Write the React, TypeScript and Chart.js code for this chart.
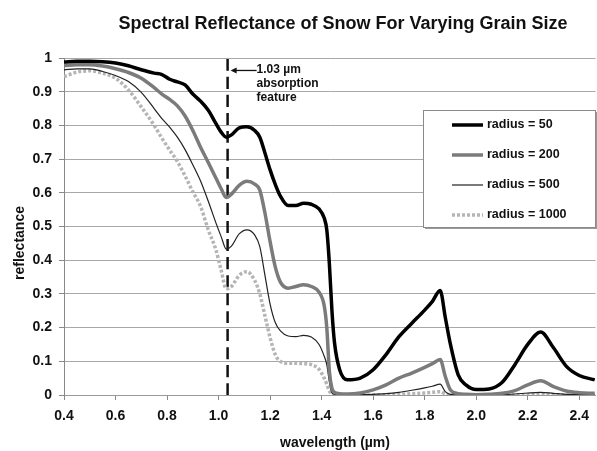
import { useEffect, useRef } from 'react';
import { Chart, registerables } from 'chart.js';

Chart.register(...registerables);

const TITLE = 'Spectral Reflectance of Snow For Varying Grain Size';
const X_TITLE = 'wavelength (µm)';
const Y_TITLE = 'reflectance';

const X_TICKS = [0.4, 0.6, 0.8, 1.0, 1.2, 1.4, 1.6, 1.8, 2.0, 2.2, 2.4];
const Y_TICKS = [0, 0.1, 0.2, 0.3, 0.4, 0.5, 0.6, 0.7, 0.8, 0.9, 1];
const X_MIN = 0.4;
const X_MAX = 2.463;

const SERIES_LABELS = ['radius = 50', 'radius = 200', 'radius = 500', 'radius = 1000'];

const WAVELENGTH = [
  0.40, 0.45, 0.50, 0.55, 0.60, 0.65, 0.70, 0.75,
  0.78, 0.81, 0.84, 0.87, 0.90, 0.93, 0.96, 0.99,
  1.01, 1.03, 1.05, 1.08, 1.11, 1.14, 1.16, 1.18,
  1.20, 1.22, 1.24, 1.27, 1.30, 1.33, 1.36, 1.39,
  1.41, 1.42, 1.43, 1.44, 1.45, 1.47, 1.50, 1.55,
  1.60, 1.65, 1.70, 1.75, 1.80, 1.83, 1.86, 1.88,
  1.90, 1.93, 1.96, 2.00, 2.05, 2.10, 2.15, 2.20,
  2.25, 2.30, 2.35, 2.40, 2.46,
];

const RADIUS_50 = [
  0.988, 0.990, 0.990, 0.989, 0.985, 0.977, 0.965, 0.955,
  0.951, 0.937, 0.929, 0.920, 0.893, 0.872, 0.845, 0.805,
  0.780, 0.765, 0.772, 0.793, 0.796, 0.785, 0.765, 0.718,
  0.668, 0.625, 0.590, 0.562, 0.562, 0.569, 0.566, 0.552,
  0.525, 0.490, 0.390, 0.250, 0.155, 0.075, 0.045, 0.050,
  0.075, 0.120, 0.173, 0.213, 0.252, 0.278, 0.310, 0.230,
  0.150, 0.060, 0.030, 0.016, 0.018, 0.037, 0.090, 0.150,
  0.187, 0.140, 0.085, 0.058, 0.045,
];

const RADIUS_200 = [
  0.978, 0.980, 0.980, 0.976, 0.968, 0.957, 0.940, 0.912,
  0.893, 0.877, 0.858, 0.828, 0.785, 0.735, 0.690, 0.643,
  0.612, 0.586, 0.596, 0.622, 0.634, 0.626, 0.608, 0.540,
  0.455, 0.380, 0.335, 0.317, 0.322, 0.327, 0.322, 0.305,
  0.265, 0.200, 0.070, 0.020, 0.008, 0.004, 0.003, 0.006,
  0.015, 0.030, 0.050, 0.065, 0.082, 0.093, 0.105, 0.055,
  0.015, 0.004, 0.002, 0.001, 0.002, 0.005, 0.013, 0.030,
  0.042, 0.025, 0.012, 0.007, 0.005,
];

const RADIUS_500 = [
  0.965, 0.968, 0.968, 0.960, 0.948, 0.930, 0.898, 0.850,
  0.820, 0.795, 0.765, 0.728, 0.683, 0.635, 0.575, 0.510,
  0.470, 0.433, 0.442, 0.478, 0.490, 0.475, 0.440, 0.355,
  0.270, 0.215, 0.190, 0.175, 0.173, 0.177, 0.172, 0.150,
  0.115, 0.090, 0.040, 0.006, 0.002, 0.001, 0.001, 0.001,
  0.002, 0.004, 0.008, 0.014, 0.021, 0.026, 0.032, 0.010,
  0.002, 0.001, 0.000, 0.000, 0.000, 0.001, 0.003, 0.006,
  0.008, 0.005, 0.002, 0.001, 0.001,
];

const RADIUS_1000 = [
  0.945, 0.958, 0.962, 0.955, 0.940, 0.905, 0.855, 0.800,
  0.762, 0.727, 0.693, 0.650, 0.603, 0.560, 0.490, 0.430,
  0.370, 0.315, 0.322, 0.355, 0.366, 0.340, 0.300, 0.235,
  0.170, 0.120, 0.100, 0.094, 0.094, 0.093, 0.090, 0.076,
  0.050, 0.032, 0.012, 0.002, 0.001, 0.000, 0.000, 0.000,
  0.000, 0.001, 0.002, 0.004, 0.006, 0.008, 0.010, 0.003,
  0.001, 0.000, 0.000, 0.000, 0.000, 0.000, 0.000, 0.001,
  0.002, 0.001, 0.000, 0.000, 0.000,
];

const ABSORPTION_X = 1.035;
const ABSORPTION_TEXT = ['1.03 µm', 'absorption', 'feature'];

const FONT = '"Liberation Sans", Arial, Helvetica, sans-serif';

const toPoints = (ys: number[]) => WAVELENGTH.map((x, i) => ({ x, y: ys[i] }));

const overlayPlugin = {
  id: 'overlay',
  afterDatasetsDraw(chart: any) {
    const ctx = chart.ctx as CanvasRenderingContext2D;
    const xs = chart.scales.x;
    const ys = chart.scales.y;
    ctx.save();
    ctx.fillStyle = '#111';
    ctx.textBaseline = 'middle';

    // chart title
    ctx.textAlign = 'center';
    ctx.font = `bold 18px ${FONT}`;
    ctx.fillText(TITLE, 343, 24);

    // axis titles
    ctx.font = `bold 14px ${FONT}`;
    ctx.fillText(X_TITLE, 335, 443);
    ctx.save();
    ctx.translate(20, 243);
    ctx.rotate(-Math.PI / 2);
    ctx.fillText(Y_TITLE, 0, 0);
    ctx.restore();

    // absorption annotation
    const ax = xs.getPixelForValue(ABSORPTION_X);
    const ay = ys.getPixelForValue(0.963);
    ctx.strokeStyle = '#111';
    ctx.lineWidth = 1.3;
    ctx.setLineDash([]);
    ctx.beginPath();
    ctx.moveTo(ax + 5, ay);
    ctx.lineTo(ax + 29, ay);
    ctx.stroke();
    ctx.beginPath();
    ctx.moveTo(ax + 3, ay);
    ctx.lineTo(ax + 9, ay - 3);
    ctx.lineTo(ax + 9, ay + 3);
    ctx.closePath();
    ctx.fill();
    ctx.textAlign = 'left';
    ctx.font = `bold 12px ${FONT}`;
    ABSORPTION_TEXT.forEach((t, i) => {
      ctx.fillText(t, ax + 29, ay - 1 + i * 14);
    });

    // legend box
    const lx = 423, ly = 110, lw = 172, lh = 117;
    ctx.fillStyle = '#9a9a9a';
    ctx.fillRect(lx + 2, ly + 2, lw, lh);
    ctx.fillStyle = '#fff';
    ctx.fillRect(lx, ly, lw, lh);
    ctx.strokeStyle = '#8a8a8a';
    ctx.lineWidth = 1;
    ctx.strokeRect(lx + 0.5, ly + 0.5, lw, lh);
    ctx.font = `bold 12.5px ${FONT}`;
    SERIES_LABELS.forEach((label, i) => {
      const ds = chart.data.datasets[i];
      const y = 125 + i * 30;
      ctx.strokeStyle = ds.borderColor;
      ctx.lineWidth = ds.borderWidth;
      ctx.setLineDash(ds.borderDash || []);
      ctx.beginPath();
      ctx.moveTo(452, y);
      ctx.lineTo(483, y);
      ctx.stroke();
      ctx.setLineDash([]);
      ctx.fillStyle = '#111';
      ctx.fillText(label, 487, y);
    });
    ctx.restore();
  },
};

export default function App() {
  const canvasRef = useRef<HTMLCanvasElement | null>(null);

  useEffect(() => {
    if (!canvasRef.current) return;
    const tickFont = { family: FONT, size: 14, weight: 'bold' as const };
    const chart = new Chart(canvasRef.current, {
      type: 'line',
      data: {
        datasets: [
          {
            label: SERIES_LABELS[0],
            data: toPoints(RADIUS_50),
            borderColor: '#000000',
            borderWidth: 3.5,
          },
          {
            label: SERIES_LABELS[1],
            data: toPoints(RADIUS_200),
            borderColor: '#7b7b7b',
            borderWidth: 3.5,
          },
          {
            label: SERIES_LABELS[2],
            data: toPoints(RADIUS_500),
            borderColor: '#222222',
            borderWidth: 1.2,
          },
          {
            label: SERIES_LABELS[3],
            data: toPoints(RADIUS_1000),
            borderColor: '#b5b5b5',
            borderWidth: 3.5,
            borderDash: [3, 2],
          },
          {
            label: 'absorption',
            data: [
              { x: ABSORPTION_X, y: 0 },
              { x: ABSORPTION_X, y: 1 },
            ],
            borderColor: '#111111',
            borderWidth: 2.5,
            borderDash: [12, 6],
          },
        ] as any,
      },
      options: {
        responsive: false,
        animation: false,
        devicePixelRatio: 1,
        layout: { padding: { top: 58, right: 0, bottom: 0, left: 0 } },
        plugins: {
          legend: { display: false },
          title: { display: false },
          tooltip: { enabled: false },
        },
        elements: {
          point: { radius: 0 },
          line: { cubicInterpolationMode: 'monotone', fill: false },
        },
        scales: {
          x: {
            type: 'linear',
            min: X_MIN,
            max: X_MAX,
            afterBuildTicks: (s: any) => {
              s.ticks = X_TICKS.map((v) => ({ value: v }));
            },
            afterFit: (s: any) => {
              s.height = 56;
            },
            ticks: {
              font: tickFont,
              color: '#111',
              padding: 8,
              maxRotation: 0,
              autoSkip: false,
              callback: (v: any) => Number(v).toFixed(1),
            },
            grid: {
              drawOnChartArea: false,
              drawTicks: true,
              tickLength: 5,
              tickColor: '#888',
            },
            border: { display: true, color: '#999', width: 1 },
          },
          y: {
            type: 'linear',
            min: 0,
            max: 1,
            afterBuildTicks: (s: any) => {
              s.ticks = Y_TICKS.map((v) => ({ value: v }));
            },
            afterFit: (s: any) => {
              s.width = 64;
            },
            ticks: {
              font: tickFont,
              color: '#111',
              padding: 7,
              callback: (v: any) => {
                const n = Number(v);
                return n === 0 ? '0' : n === 1 ? '1' : n.toFixed(1);
              },
            },
            grid: {
              color: '#a8a8a8',
              lineWidth: 1,
              tickLength: 5,
              tickColor: '#888',
            },
            border: { display: true, color: '#888', width: 1 },
          },
        },
      } as any,
      plugins: [overlayPlugin],
    });
    return () => chart.destroy();
  }, []);

  return (
    <div style={{ position: 'absolute', left: 0, top: 0, width: 597, height: 451, background: '#fff' }}>
      <canvas ref={canvasRef} width={597} height={451} style={{ display: 'block' }} />
    </div>
  );
}
